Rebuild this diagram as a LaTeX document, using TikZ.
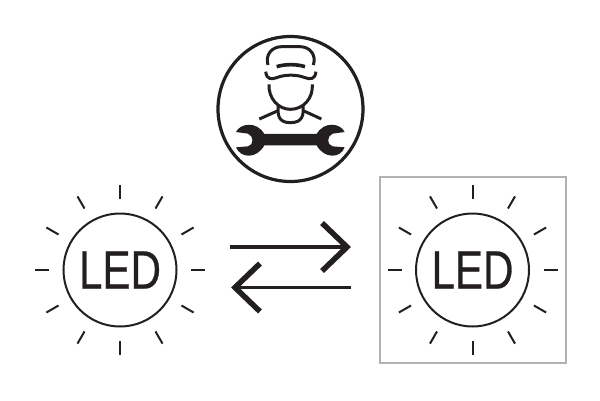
\documentclass[tikz,border=0pt]{standalone}
\usepackage{fontspec}
\usetikzlibrary{arrows.meta}
\newfontfamily\ledfont[FakeStretch=0.78, FakeBold=0.5]{Liberation Sans}
\definecolor{framegray}{RGB}{178,178,178}
\definecolor{inkblack}{RGB}{35,31,32}
\tikzset{
    ledlamp/.style={circle, draw=inkblack, line width=2pt, minimum size=113pt, inner sep=0pt, text=inkblack, font=\ledfont\fontsize{54}{54}\selectfont},
    ledray/.style={draw=inkblack, line width=2pt},
    swaparrow/.style={draw=inkblack, line width=3.2pt, -{Straight Barb[length=25pt, width=48pt, line width=5.5pt]}},
    iconline/.style={draw=inkblack, line width=3pt}
}
\begin{document}
\begin{tikzpicture}[x=1pt, y=-1pt]
    \useasboundingbox (0,0) rectangle (600,400);
    % LED lamps
    \node[ledlamp] (Led-1) at (120,270) {LED};
    \node[ledlamp] (Led-2) at (472.5,270) {LED};
    % Rays round each lamp
    \foreach \i in {1,2} {
        \foreach \a in {0,30,...,330} {
            \draw[ledray] (Led-\i.center) ++(\a:71) -- ++(\a:14);
        }
    }
    % Frame of the right lamp
    \node[draw=framegray, line width=2pt, minimum width=186pt, minimum height=186pt, inner sep=0pt] (Frame) at (472.5,270.4) {};
    % Swap arrows
    \coordinate (Top-start) at (230,247);
    \coordinate (Top-end) at (351,247);
    \coordinate (Bottom-start) at (351,287.5);
    \coordinate (Bottom-end) at (231,287.5);
    \draw[swaparrow] (Top-start) -- (Top-end);
    \draw[swaparrow] (Bottom-start) -- (Bottom-end);
    % Mechanic icon
    \node[circle, draw=inkblack, line width=3.2pt, minimum size=145pt, inner sep=0pt] (Icon) at (290.5,109) {};
    \begin{scope}[shift={(200,30)}, x=0.3333pt, y=-0.3333pt]
        % Cap
        \draw[iconline] (204,105) .. controls (195,75) and (215,50) .. (245,50) -- (300,50) .. controls (330,50) and (350,75) .. (340,105);
        \draw[iconline, line width=3.6pt] (230,110) .. controls (255,102) and (290,102) .. (315,110);
        \draw[iconline] (197,125) .. controls (200,150) and (215,148) .. (230,143) .. controls (255,133) and (290,133) .. (315,143) .. controls (330,148) and (345,150) .. (348,125);
        % Face and neck
        \draw[iconline] (207,163) .. controls (205,205) and (235,238) .. (271,238) .. controls (310,238) and (340,205) .. (337,163);
        \draw[iconline] (235,225) .. controls (232,255) and (235,278) .. (271,278) .. controls (308,278) and (312,255) .. (309,225);
        \draw[iconline] (178,267) -- (232,243);
        \draw[iconline] (364,267) -- (312,243);
        % Wrench
        \fill[inkblack] (108,306) .. controls (120,280) and (170,272) .. (193,312) -- (350,312)
            .. controls (373,272) and (422,280) .. (434,306) -- (398,311) .. controls (380,318) and (380,345) .. (398,349) -- (434,352)
            .. controls (422,385) and (373,388) .. (350,346) -- (193,346)
            .. controls (170,388) and (122,385) .. (108,352) -- (144,349) .. controls (162,345) and (162,318) .. (144,311) -- cycle;
    \end{scope}
\end{tikzpicture}
\end{document}
